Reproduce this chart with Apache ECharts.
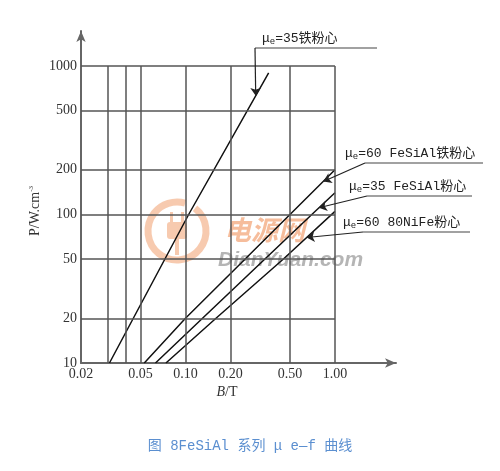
<!DOCTYPE html>
<html>
<head>
<meta charset="utf-8">
<script src="https://cdn.jsdelivr.net/npm/echarts@6/dist/echarts.min.js"></script>
<style>
  html, body { margin: 0; padding: 0; background: #fff; }
  #chart { width: 500px; height: 471px; }
</style>
</head>
<body>
<div id="chart"></div>
<script>
// tick labels and grid lines (B in T, P in W/cm3)
const xTicks = [0.02, 0.05, 0.1, 0.2, 0.5, 1];
const yTicks = [10, 20, 50, 100, 200, 500, 1000];
const xGrid = [0.03, 0.04, 0.05, 0.1, 0.2, 0.5, 1];
const yGrid = [20, 50, 100, 200, 500, 1000];

// curves, [B, P]
const iron35 = [[0.031, 10], [0.105, 100], [0.36, 900]];
const fesial60 = [[0.053, 10], [0.1, 20], [0.5, 100], [1.0, 200]];
const fesial35 = [[0.063, 10], [0.13, 20], [0.7, 100], [1.0, 140]];
const nife60 = [[0.074, 10], [0.16, 20], [0.45, 50], [1.0, 105]];

// where each leader arrow touches its curve
const arrowTips = [[0.295, 630], [0.835, 167], [0.78, 111], [0.646, 70]];

const serif = "'Liberation Serif', 'Times New Roman', serif";
const mono = "'Liberation Mono', 'Noto Sans CJK SC', monospace";

const lineColor = "#111";
const gridStyle = { color: "#555", width: 1.5, type: "solid" };

const leaderStarts = [
  { x: 255, y: 48 },
  { x: 365, y: 163 },
  { x: 367, y: 196 },
  { x: 363, y: 232 },
];

const gridLines = [];
xGrid.forEach((v) => gridLines.push([{ coord: [v, 10] }, { coord: [v, 1000] }]));
yGrid.forEach((v) => gridLines.push([{ coord: [0.02, v] }, { coord: [1, v] }]));

const curve = (name, data, i) => ({
  name: name,
  type: "line",
  data: data,
  symbol: "none",
  silent: true,
  lineStyle: { color: lineColor, width: 1.5 },
  markLine: {
    silent: true,
    symbol: ["none", "arrow"],
    symbolSize: 8,
    label: { show: false },
    lineStyle: { color: "#222", width: 1.2, type: "solid" },
    data: [[leaderStarts[i], { coord: arrowTips[i] }]],
  },
});

const labelRich = {
  m: { fontFamily: mono, fontSize: 13, fill: "#222" },
  s: { fontFamily: mono, fontSize: 9, fill: "#222", padding: [6, 0, 0, 0] },
};

const note = (x, y, text, x2) => [
  {
    type: "text",
    left: x,
    top: y - 16,
    style: { text: text, rich: labelRich, fill: "#222", font: "13px " + mono },
  },
  {
    type: "line",
    shape: { x1: x2[0], y1: y, x2: x2[1], y2: y },
    style: { stroke: "#444", lineWidth: 1.2 },
  },
];

const mark = "rgba(240,150,95,0.5)";

const chart = echarts.init(document.getElementById("chart"));

const option = {
  animation: false,
  backgroundColor: "#fff",
  grid: { left: 81, right: 104, top: 31, bottom: 108, containLabel: false, outerBoundsMode: "none" },
  xAxis: {
    type: "log",
    logBase: 10,
    min: 0.02,
    max: 2.56,
    axisLine: {
      show: true,
      symbol: ["none", "arrow"],
      symbolSize: [7, 11],
      lineStyle: { color: "#666", width: 2 },
    },
    axisTick: { show: false },
    splitLine: { show: false },
    minorTick: { show: false },
    axisLabel: {
      customValues: xTicks,
      formatter: (v) => Number(v).toFixed(2),
      color: "#333",
      fontFamily: serif,
      fontSize: 14,
      margin: 4,
    },
    name: "{i|B}/T",
    nameLocation: "middle",
    nameGap: 22,
    nameMoveOverlap: false,
    nameTextStyle: {
      color: "#333",
      fontFamily: serif,
      fontSize: 14,
      padding: [0, 23, 0, 0],
      rich: { i: { fontStyle: "italic", fontFamily: serif, fontSize: 14, color: "#333" } },
    },
  },
  yAxis: {
    type: "log",
    logBase: 10,
    min: 10,
    max: 1721,
    axisLine: {
      show: true,
      symbol: ["none", "arrow"],
      symbolSize: [7, 11],
      lineStyle: { color: "#666", width: 2 },
    },
    axisTick: { show: false },
    splitLine: { show: false },
    minorTick: { show: false },
    axisLabel: {
      customValues: yTicks,
      formatter: (v) => String(Math.round(v)),
      color: "#333",
      fontFamily: serif,
      fontSize: 14,
      margin: 4,
    },
    name: "P/W.cm{sup|-3}",
    nameLocation: "middle",
    nameRotate: 90,
    nameGap: 38,
    nameMoveOverlap: false,
    nameTextStyle: {
      color: "#333",
      fontFamily: serif,
      fontSize: 14,
      padding: [0, 28, 0, 0],
      rich: { sup: { fontFamily: serif, fontSize: 7, color: "#333", verticalAlign: "top", padding: [0, 0, 8, 0] } },
    },
  },
  series: [
    {
      name: "grid",
      type: "line",
      data: [],
      silent: true,
      markLine: {
        silent: true,
        symbol: "none",
        label: { show: false },
        lineStyle: gridStyle,
        data: gridLines,
      },
    },
    curve("μe=35铁粉心", iron35, 0),
    curve("μe=60 FeSiAl铁粉心", fesial60, 1),
    curve("μe=35 FeSiAl粉心", fesial35, 2),
    curve("μe=60 80NiFe粉心", nife60, 3),
  ],
  graphic: [
    // watermark
    {
      type: "group",
      silent: true,
      children: [
        {
          type: "arc",
          shape: { cx: 177, cy: 231, r: 29, startAngle: -0.9, endAngle: 5.0, clockwise: true },
          style: { stroke: mark, lineWidth: 7, fill: null },
        },
        {
          type: "rect",
          shape: { x: 167, y: 222, width: 20, height: 17, r: 3 },
          style: { fill: mark },
        },
        {
          type: "rect",
          shape: { x: 170, y: 212, width: 3, height: 10 },
          style: { fill: mark },
        },
        {
          type: "rect",
          shape: { x: 181, y: 212, width: 3, height: 10 },
          style: { fill: mark },
        },
        {
          type: "rect",
          shape: { x: 175, y: 239, width: 4, height: 16 },
          style: { fill: mark },
        },
        {
          type: "text",
          left: 224,
          top: 216,
          style: {
            text: "电源网",
            font: "italic bold 27px 'Noto Sans CJK SC'",
            fill: "rgba(240,145,90,0.6)",
          },
        },
        {
          type: "text",
          left: 218,
          top: 250,
          style: {
            text: "DianYuan.com",
            font: "italic bold 21px 'Liberation Sans', Arial, sans-serif",
            fill: "rgba(150,150,150,0.7)",
          },
        },
      ],
    },
    // curve labels
    ...note(262, 48, "{m|μ}{s|e}{m|=35铁粉心}", [255, 377]),
    ...note(345, 163, "{m|μ}{s|e}{m|=60 FeSiAl铁粉心}", [365, 483]),
    ...note(349, 196, "{m|μ}{s|e}{m|=35 FeSiAl粉心}", [367, 472]),
    ...note(343, 232, "{m|μ}{s|e}{m|=60 80NiFe粉心}", [363, 470]),
    // caption
    {
      type: "text",
      left: "center",
      top: 439,
      style: {
        text: "图 8FeSiAl 系列 μ e—f 曲线",
        font: "14px " + mono,
        fill: "#5b8fd0",
      },
    },
  ],
};

chart.setOption(option);
</script>
</body>
</html>
